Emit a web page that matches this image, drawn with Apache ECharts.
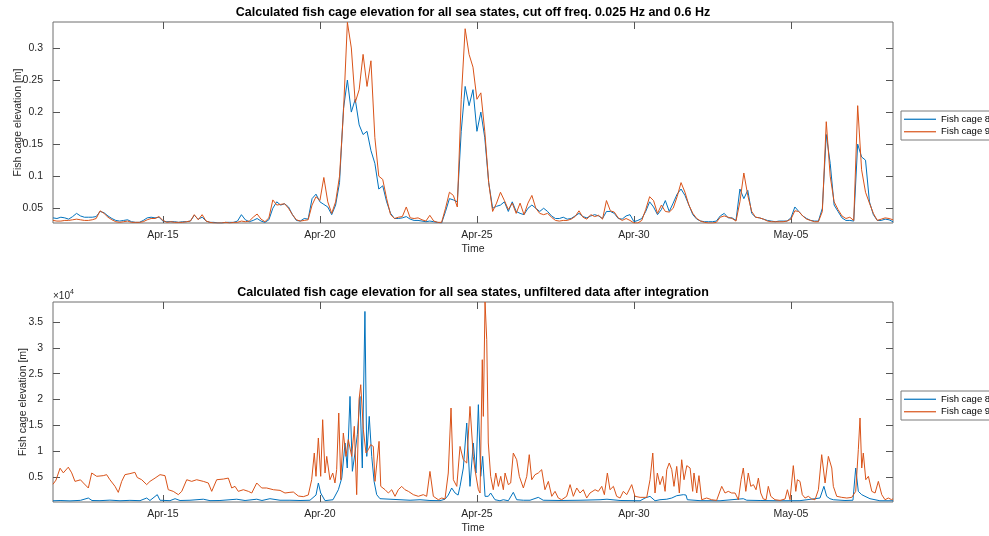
<!DOCTYPE html>
<html>
<head>
<meta charset="utf-8">
<script src="https://cdn.jsdelivr.net/npm/echarts@6/dist/echarts.min.js"></script>
<style>
  html, body { margin: 0; padding: 0; background: #fff; }
  #chart { width: 989px; height: 536px; }
</style>
</head>
<body>
<div id="chart"></div>
<script>
// ---- data ----------------------------------------------------------------
const seriesNames = ['Fish cage 8', 'Fish cage 9'];
const panelTitles = [
  'Calculated fish cage elevation for all sea states, cut off freq. 0.025 Hz and 0.6 Hz',
  'Calculated fish cage elevation for all sea states, unfiltered data after integration'
];
const axisNames = { x: 'Time', y: 'Fish cage elevation [m]' };

// record start (UTC) and sampling step of the filtered series
const recordStart = Date.UTC(2019, 3, 11, 12, 0, 0);
const recordHours = 642;
const filteredStepHours = 3;

// date ticks along the time axis [month, day]
const timeTickDates = [[4, 15], [4, 20], [4, 25], [4, 30], [5, 5]];
const monthNames = ['Jan','Feb','Mar','Apr','May','Jun','Jul','Aug','Sep','Oct','Nov','Dec'];

// value ticks
const filteredTicks = [0.05, 0.1, 0.15, 0.2, 0.25, 0.3];
const unfilteredTicks = [5000, 10000, 15000, 20000, 25000, 30000, 35000];
const unfilteredExponent = 4;

// filtered elevation [m], one value every 3 h
const topCage8 = [
0.035,0.034,0.036,0.035,0.033,0.037,0.042,0.038,0.036,0.036,
0.036,0.037,0.045,0.043,0.038,0.034,0.031,0.030,0.031,0.032,
0.029,0.028,0.028,0.031,0.035,0.036,0.035,0.036,0.030,0.029,
0.029,0.029,0.028,0.029,0.029,0.030,0.039,0.033,0.036,0.030,
0.028,0.028,0.027,0.027,0.028,0.028,0.028,0.030,0.040,0.032,
0.029,0.031,0.034,0.030,0.028,0.032,0.050,0.060,0.055,0.057,
0.052,0.040,0.031,0.030,0.034,0.033,0.065,0.072,0.060,0.056,
0.052,0.040,0.055,0.090,0.205,0.250,0.200,0.220,0.180,0.165,
0.170,0.140,0.120,0.080,0.085,0.060,0.042,0.034,0.034,0.035,
0.037,0.033,0.031,0.031,0.030,0.029,0.030,0.029,0.028,0.027,
0.045,0.065,0.063,0.060,0.170,0.240,0.210,0.235,0.170,0.200,
0.160,0.090,0.050,0.053,0.055,0.060,0.045,0.060,0.045,0.042,
0.040,0.050,0.055,0.050,0.045,0.050,0.045,0.038,0.034,0.034,
0.036,0.033,0.034,0.038,0.042,0.037,0.035,0.038,0.040,0.038,
0.034,0.045,0.045,0.042,0.034,0.033,0.038,0.040,0.029,0.031,
0.034,0.045,0.060,0.052,0.040,0.048,0.062,0.045,0.058,0.072,
0.080,0.070,0.055,0.040,0.033,0.030,0.029,0.029,0.029,0.030,
0.038,0.042,0.035,0.035,0.031,0.080,0.065,0.078,0.042,0.036,
0.035,0.033,0.031,0.030,0.029,0.030,0.030,0.030,0.035,0.052,
0.045,0.038,0.034,0.031,0.030,0.030,0.050,0.165,0.120,0.055,
0.045,0.035,0.031,0.031,0.030,0.150,0.130,0.125,0.060,0.040,
0.031,0.031,0.033,0.032,0.029
];
const topCage9 = [
0.031,0.030,0.030,0.031,0.031,0.032,0.033,0.032,0.031,0.031,
0.032,0.034,0.046,0.042,0.036,0.032,0.029,0.028,0.029,0.030,
0.028,0.028,0.028,0.029,0.032,0.034,0.034,0.037,0.031,0.028,
0.029,0.028,0.028,0.028,0.029,0.030,0.040,0.032,0.040,0.030,
0.028,0.027,0.027,0.027,0.028,0.027,0.028,0.028,0.030,0.029,
0.030,0.036,0.041,0.033,0.029,0.035,0.063,0.055,0.056,0.057,
0.050,0.040,0.032,0.030,0.031,0.032,0.055,0.068,0.062,0.098,
0.060,0.042,0.060,0.100,0.200,0.340,0.300,0.215,0.235,0.290,
0.240,0.280,0.160,0.100,0.095,0.065,0.040,0.034,0.036,0.037,
0.052,0.035,0.034,0.035,0.032,0.030,0.039,0.030,0.028,0.028,
0.050,0.075,0.070,0.052,0.220,0.330,0.290,0.270,0.220,0.230,
0.170,0.090,0.045,0.058,0.075,0.062,0.048,0.058,0.042,0.058,
0.040,0.058,0.070,0.050,0.042,0.040,0.042,0.036,0.031,0.030,
0.031,0.031,0.033,0.037,0.046,0.036,0.033,0.040,0.037,0.039,
0.033,0.062,0.046,0.044,0.035,0.031,0.034,0.031,0.027,0.027,
0.031,0.048,0.068,0.062,0.042,0.055,0.045,0.044,0.050,0.068,
0.090,0.075,0.055,0.042,0.034,0.030,0.028,0.027,0.027,0.028,
0.036,0.038,0.036,0.034,0.030,0.060,0.105,0.070,0.045,0.036,
0.035,0.033,0.030,0.029,0.029,0.029,0.029,0.030,0.033,0.046,
0.045,0.038,0.033,0.031,0.029,0.029,0.045,0.185,0.100,0.060,
0.048,0.038,0.034,0.036,0.031,0.210,0.110,0.075,0.058,0.042,
0.031,0.033,0.035,0.034,0.032
];

// unfiltered elevation after integration [m]: [hours since record start, value]
const bottomCage8 = [
[0,400],[5.4,450],[13,380],[21,480],[27,930],[29.8,450],[35.9,420],[43.5,520],[51.2,400],
[58.8,480],[66.5,420],[71.6,930],[74.1,450],[79.7,1580],[81.8,500],[89.4,420],[93.3,800],
[97.1,450],[104.7,500],[114.9,700],[120,420],[127.6,450],[140.4,700],[146.8,450],[155.7,700],
[159.7,450],[165.8,800],[173.5,500],[181.1,500],[188.8,450],[196.4,500],[201,1500],
[202.8,3840],[204.6,1900],[207.9,420],[214,600],[218.1,2540],[220.7,4800],[223.2,11580],
[224.9,6740],[227,20600],[228.8,6100],[230.8,9640],[232.6,13200],[234.6,20600],[236.4,6740],
[238.4,37040],[239.8,8990],[241.7,16730],[243.6,8990],[245.4,4150],[247.4,1580],[249.9,800],
[257.6,700],[265.2,600],[272.9,500],[280.5,600],[288.1,450],[295.8,420],[299.6,700],
[302.1,1500],[304.7,2870],[307.3,1900],[309.6,1500],[311.1,3190],[313.6,6740],[316.2,15450],
[318.7,3190],[321.2,11580],[323.3,5770],[325.1,19000],[326.9,5130],[328.4,9000],[330.2,1260],
[332.7,1260],[334.5,1900],[337.8,600],[341.6,400],[344.2,600],[348,400],[351.8,2030],
[354.4,600],[359.5,500],[364.6,500],[370.9,1060],[374.7,500],[387.5,450],[402.8,500],
[418.1,600],[423.4,700],[433.4,450],[448.7,400],[452.5,930],[456.3,1260],[460.1,400],
[463.9,600],[469.1,700],[472.9,930],[476.7,1380],[481.8,1580],[483.8,1500],[484.8,600],
[494.5,420],[509.8,400],[527.6,800],[530.2,500],[540.4,450],[555.7,400],[570.9,420],
[586.2,930],[589.2,3190],[591.3,1260],[593.8,800],[596.4,600],[605.3,450],[611.4,500],
[613.5,6740],[615.5,2220],[618.1,1580],[620.6,1260],[624.4,800],[632,400],[642,400]
];
const bottomCage9 = [
[0,3600],[2.3,4400],[5.4,6700],[7.9,5800],[11.7,6900],[14.3,5800],[16.8,4150],[21,4450],
[23.2,3850],[27,2870],[29.6,5770],[33.4,5130],[38.4,5260],[41,5450],[43.5,4470],[47.4,3190],
[49.9,2020],[52.5,4150],[55,5450],[58.8,5650],[62.6,5900],[64.4,4900],[67.8,4470],[71.6,3520],
[74.1,4150],[78,4790],[81.8,5450],[85.6,5260],[88.1,2540],[91.9,2220],[95.8,1580],[98.4,2220],
[102.2,4470],[106,4150],[109.8,4470],[114.9,4150],[118.7,3840],[121.3,2220],[125.1,4470],
[130.2,4600],[134,4790],[136.6,2870],[139.1,3190],[141.6,2220],[145.5,2540],[149.3,2220],
[151.9,1900],[155.7,3840],[159.5,2870],[163.3,2870],[168.4,2540],[173.5,2410],[177.3,1900],
[181.1,2030],[183.7,2090],[187.5,1320],[191.3,1190],[195.1,1510],[197.7,4470],[199.7,9640],
[201,5130],[202.8,12550],[204.6,5130],[206.1,16090],[207.9,5770],[209.2,8990],[211.7,4470],
[213.8,5770],[215.5,3840],[216.8,6420],[218.4,17380],[219.9,4470],[221.9,13510],[223.9,8990],
[225.7,12230],[228.3,8990],[230.3,14810],[232.1,1580],[233.9,19960],[235.2,22860],
[237.2,14170],[239.2,9640],[241,10280],[242.8,11260],[244.8,10920],[246.1,4150],[249.2,11900],
[250.5,3190],[253.8,2540],[256.3,1900],[258.9,2540],[261.4,1260],[263.9,2540],[266.5,3180],
[269,2540],[271.6,2220],[275.4,1580],[279.2,1260],[283,1580],[285.6,1260],[288.1,6080],
[290.7,1260],[294.5,600],[297.1,930],[299.6,740],[302.1,5770],[304.2,18350],[306,4470],
[308.6,3190],[311.1,10920],[313.6,8340],[316.2,7700],[318.7,18660],[321.2,8990],[322.5,6420],
[325.1,2540],[326.4,1900],[328.1,27700],[328.9,16730],[330.2,38870],[331.5,31570],
[332.7,11580],[334.5,5130],[336.5,2540],[338.4,5770],[340.4,3190],[342.2,5130],[344.2,2540],
[345.5,5770],[348,3520],[349.8,3840],[351.8,9640],[354.4,8340],[356.4,5130],[359.5,2870],
[362.1,5130],[364,9320],[365.9,4470],[368.4,5450],[370.9,5770],[373.5,6420],[376,2540],
[378.6,4150],[381.2,1260],[383.7,2220],[386.2,930],[388.8,600],[392.6,1260],[395.2,3520],
[397.7,1260],[400.3,2870],[402.8,1900],[405.3,2540],[407.9,930],[410.4,1900],[414.3,2540],
[416.8,2220],[419.4,3190],[421.4,1580],[423.7,5770],[425.7,2540],[428.3,3190],[430.8,1260],
[433.4,930],[435.9,2220],[438.5,1580],[442.3,3520],[444.8,1260],[448.7,1060],[453.8,1060],
[456.3,4470],[458.4,9640],[460.1,1900],[461.9,5770],[463.9,3520],[466,5130],[467.8,2220],
[469.1,6420],[471,7710],[472.9,6420],[474.6,3190],[476.7,7050],[478.7,1900],[480.5,8340],
[482.3,4470],[484.4,7200],[486.9,6740],[488.9,2220],[489.9,5770],[492,1900],[493.7,5260],
[495.8,600],[499.6,930],[503.4,600],[507.2,470],[511.1,3190],[513.6,1900],[516.1,2220],
[518.7,1900],[521.3,1900],[523.8,600],[525.9,4470],[527.6,6740],[529.5,2220],[531.4,5770],
[533.3,3190],[535.3,3520],[537.3,2540],[539.1,4790],[540.9,1900],[542.9,740],[545,600],
[546.7,3190],[548.6,1260],[551.8,600],[555.7,470],[559.5,740],[561.3,2540],[563.3,600],
[565.8,7200],[567.7,2220],[568.9,4470],[570.9,4150],[572.7,1580],[574.8,930],[577.3,1260],
[579.9,740],[582.4,600],[585,2540],[587.5,9320],[590.1,3840],[592.6,8990],[595.2,6740],
[596.4,3190],[599,1260],[602.8,1060],[606.7,930],[610.5,1060],[613.5,2220],[615.5,10280],
[616.8,16420],[618.1,6740],[619.3,9640],[621.2,4470],[623.2,5130],[625.8,2220],[628.3,1900],
[630.8,4150],[633.4,1580],[635.9,600],[638.4,930],[641,600],[642,800]
];

// ---- helpers -------------------------------------------------------------
// the time axis runs in hours since record start; labels are converted back to dates
const HOUR = 3600 * 1000;
const tickHours = timeTickDates.map(([m, d]) => (Date.UTC(2019, m - 1, d) - recordStart) / HOUR);
const pad2 = n => (n < 10 ? '0' : '') + n;
const formatDay = h => {
  const d = new Date(recordStart + h * HOUR);
  return monthNames[d.getUTCMonth()] + '-' + pad2(d.getUTCDate());
};
const gridSeries = arr => arr.map((v, i) => [i * filteredStepHours, v]);
const pairSeries = arr => arr.map(([h, v]) => [h, v]);

const FONT = '"Liberation Sans", Arial, Helvetica, sans-serif';
const TEXT = '#262626';
const BOX = '#6f6f6f';
const COLORS = ['#0072BD', '#D95319'];

const grids = [
  { left: 53, top: 22, width: 840, height: 201 },
  { left: 53, top: 302, width: 840, height: 200 }
];
const yRanges = [[0.027, 0.3405], [160, 38870]];
const yTicks = [filteredTicks, unfilteredTicks];
const yFormat = [v => String(v), v => String(v / Math.pow(10, unfilteredExponent))];
const yNameGap = [29, 24];

const tickStyle = { inside: true, length: 7, lineStyle: { color: '#555', width: 1 } };
const hiddenLine = { show: false, onZero: false };

const xAxes = [];
const yAxes = [];
grids.forEach((g, k) => {
  g.show = true;
  g.borderColor = BOX;
  g.borderWidth = 1;
  g.backgroundColor = '#fff';
  g.containLabel = false;
  g.outerBoundsMode = 'none';
  xAxes.push({
    type: 'value', gridIndex: k, position: 'bottom',
    min: 0, max: recordHours,
    name: axisNames.x, nameLocation: 'middle', nameGap: 21, nameMoveOverlap: false,
    nameTextStyle: { fontFamily: FONT, fontSize: 10.5, color: TEXT },
    axisLine: hiddenLine, splitLine: { show: false },
    axisTick: Object.assign({ customValues: tickHours }, tickStyle),
    axisLabel: { customValues: tickHours, formatter: v => formatDay(v), margin: 7,
                 fontFamily: FONT, fontSize: 10.5, color: TEXT }
  });
  xAxes.push({
    type: 'value', gridIndex: k, position: 'top',
    min: 0, max: recordHours,
    axisLine: hiddenLine, splitLine: { show: false },
    axisTick: Object.assign({ customValues: tickHours }, tickStyle),
    axisLabel: { show: false }
  });
  yAxes.push({
    type: 'value', gridIndex: k, position: 'left',
    min: yRanges[k][0], max: yRanges[k][1],
    name: axisNames.y, nameLocation: 'middle', nameGap: yNameGap[k], nameRotate: 90,
    nameMoveOverlap: false,
    nameTextStyle: { fontFamily: FONT, fontSize: 10.5, color: TEXT },
    axisLine: hiddenLine, splitLine: { show: false },
    axisTick: Object.assign({ customValues: yTicks[k] }, tickStyle),
    axisLabel: { customValues: yTicks[k], formatter: yFormat[k], margin: 10,
                 fontFamily: FONT, fontSize: 10.5, color: TEXT }
  });
  yAxes.push({
    type: 'value', gridIndex: k, position: 'right',
    min: yRanges[k][0], max: yRanges[k][1],
    axisLine: hiddenLine, splitLine: { show: false },
    axisTick: Object.assign({ customValues: yTicks[k] }, tickStyle),
    axisLabel: { show: false }
  });
});

const panelData = [
  [gridSeries(topCage8), gridSeries(topCage9)],
  [pairSeries(bottomCage8), pairSeries(bottomCage9)]
];
const series = [];
panelData.forEach((pair, k) => {
  pair.forEach((data, j) => {
    series.push({
      type: 'line', name: seriesNames[j], data,
      xAxisIndex: 2 * k, yAxisIndex: 2 * k,
      symbol: 'none', showSymbol: false, clip: true,
      lineStyle: { color: COLORS[j], width: 1 },
      itemStyle: { color: COLORS[j] },
      emphasis: { disabled: true }
    });
  });
});

const legendBase = {
  data: seriesNames, orient: 'vertical', left: 901, icon: 'rect',
  itemWidth: 32, itemHeight: 1.2, itemGap: 0, padding: [2, 14, 2, 3],
  borderColor: '#7a7a7a', borderWidth: 1, backgroundColor: '#fff',
  selectedMode: false,
  textStyle: { fontFamily: FONT, fontSize: 9.5, color: '#000', lineHeight: 12.5 }
};

const titleText = (text, y) => ({
  type: 'text', x: 473, y,
  style: { text, fill: '#000', font: 'bold 12.5px ' + FONT,
           align: 'center', verticalAlign: 'middle',
           textAlign: 'center', textVerticalAlign: 'middle' }
});

const option = {
  animation: false,
  backgroundColor: '#fff',
  grid: grids,
  xAxis: xAxes,
  yAxis: yAxes,
  legend: [
    Object.assign({ top: 111 }, legendBase),
    Object.assign({ top: 391 }, legendBase)
  ],
  graphic: [
    titleText(panelTitles[0], 13),
    titleText(panelTitles[1], 293),
    {
      type: 'text', x: 53, y: 296,
      style: {
        text: '{b|×10}{s|' + unfilteredExponent + '}',
        verticalAlign: 'middle', textVerticalAlign: 'middle',
        rich: {
          b: { fontFamily: FONT, fontSize: 10, fill: TEXT, color: TEXT, lineHeight: 14 },
          s: { fontFamily: FONT, fontSize: 7, fill: TEXT, color: TEXT, verticalAlign: 'top' }
        }
      }
    }
  ],
  series
};

const chart = echarts.init(document.getElementById('chart'), null, { renderer: 'canvas' });
chart.setOption(option);
</script>
</body>
</html>
